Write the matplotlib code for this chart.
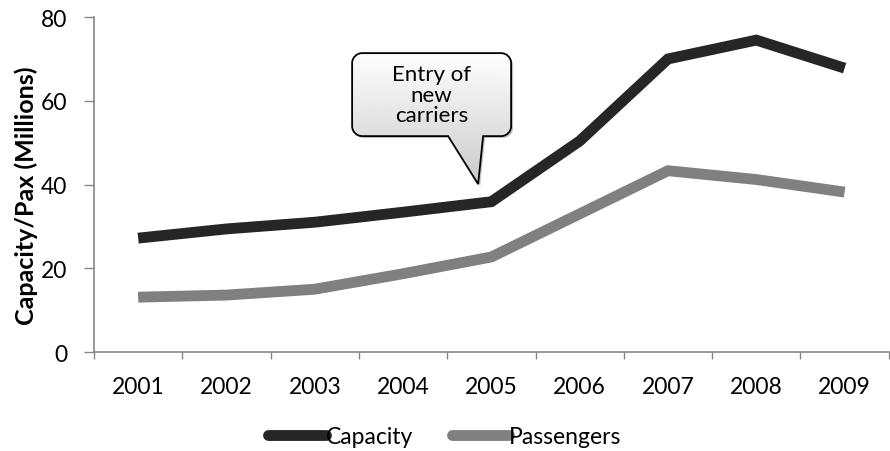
import numpy as np
import matplotlib.pyplot as plt
from matplotlib.path import Path
from matplotlib.patches import PathPatch
from matplotlib.transforms import IdentityTransform

years = ['2001', '2002', '2003', '2004', '2005', '2006', '2007', '2008', '2009']
capacity = [27.2, 29.4, 31.0, 33.4, 35.9, 50.4, 70.0, 74.5, 67.8]
passengers = [13.1, 13.6, 15.0, 18.7, 22.7, 33.0, 43.3, 41.2, 38.2]

plt.rcParams['font.family'] = ['Lato', 'DejaVu Sans']

fig = plt.figure(figsize=(8.9, 4.52), dpi=100)
ax = fig.add_axes([0.1056, 0.219, 0.893, 0.741])

x = np.arange(len(years))
ax.plot(x, capacity, color='#262626', lw=7.8, solid_capstyle='butt', solid_joinstyle='miter', label='Capacity')
ax.plot(x, passengers, color='#808080', lw=7.8, solid_capstyle='butt', solid_joinstyle='miter', label='Passengers')

ax.set_xlim(-0.5, len(years) - 0.5)
ax.set_ylim(0, 80)
ax.set_yticks([0, 20, 40, 60, 80])
ax.set_xticks(x)
ax.set_xticklabels(years)
ax.set_xticks(np.arange(-0.5, len(years)), minor=True)
ax.tick_params(axis='x', which='major', length=0, pad=17, labelsize=16.5, colors='black')
ax.tick_params(axis='x', which='minor', length=5, width=1, color='#868686', direction='out')
ax.tick_params(axis='y', length=7, width=1, color='#868686', direction='out', labelsize=16.5, pad=12)
for side in ['top', 'right']:
    ax.spines[side].set_visible(False)
for side in ['left', 'bottom']:
    ax.spines[side].set_color('#868686')
    ax.spines[side].set_linewidth(1.2)
ax.set_ylabel('Capacity/Pax (Millions)', fontsize=18, fontweight='bold')
ax.yaxis.set_label_coords(-0.071, 0.47)

leg = fig.legend(loc='lower center', bbox_to_anchor=(0.5, -0.022), ncol=2, frameon=False,
                 fontsize=16.5, handlelength=2.5, handletextpad=0.0, columnspacing=1.7,
                 borderaxespad=0.2)
for line in leg.get_lines():
    line.set_solid_capstyle('round')

# speech-bubble callout, tip resting on the capacity line just before 2005
tip_x, tip_y = 3.85, 40.1
fig.canvas.draw()
tx, ty = ax.transData.transform((tip_x, tip_y))

left, right = tx - 126, tx + 33
top, bottom = ty + 131, ty + 48
r = 10
k = 0.55 * r
verts = [
    (left + r, top),
    (right - r, top), (right - r + k, top), (right, top - r + k), (right, top - r),
    (right, bottom + r), (right, bottom + r - k), (right - r + k, bottom), (right - r, bottom),
    (tx + 5, bottom), (tx, ty), (tx - 30, bottom),
    (left + r, bottom), (left + r - k, bottom), (left, bottom + r - k), (left, bottom + r),
    (left, top - r), (left, top - r + k), (left + r - k, top), (left + r, top),
    (left + r, top),
]
codes = ([Path.MOVETO, Path.LINETO] + [Path.CURVE4] * 3 + [Path.LINETO] + [Path.CURVE4] * 3
         + [Path.LINETO, Path.LINETO, Path.LINETO, Path.LINETO] + [Path.CURVE4] * 3
         + [Path.LINETO] + [Path.CURVE4] * 3 + [Path.CLOSEPOLY])
bubble = Path(verts, codes)

shadow = PathPatch(Path(np.array(verts) + [2, -2], codes), transform=IdentityTransform(),
                   facecolor='#c4c4c4', edgecolor='none', zorder=5, clip_on=False)
ax.add_artist(shadow)

inv = ax.transData.inverted()
(x0, y0) = inv.transform((left, ty))
(x1, y1) = inv.transform((right, top))
grad = np.linspace(1, 0, 256).reshape(-1, 1)
img = ax.imshow(grad, extent=(x0, x1, y0, y1), cmap='gray', vmin=-3.8, vmax=1.0,
                aspect='auto', origin='upper', zorder=6, interpolation='bilinear')
fill = PathPatch(bubble, transform=IdentityTransform(), facecolor='none', edgecolor='none')
ax.add_artist(fill)
img.set_clip_path(fill)
img.set_clip_on(True)
outline = PathPatch(bubble, transform=IdentityTransform(), facecolor='none',
                    edgecolor='black', lw=1.3, zorder=7, clip_on=False)
ax.add_artist(outline)
ax.set_xlim(-0.5, len(years) - 0.5)
ax.set_ylim(0, 80)

cx, cy = inv.transform(((left + right) / 2, (top + bottom) / 2))
ax.text(cx, cy, 'Entry of\nnew\ncarriers', ha='center', va='center', fontsize=16,
        linespacing=1.05, zorder=8, color='black')

fig.savefig('out.png', dpi=100)
